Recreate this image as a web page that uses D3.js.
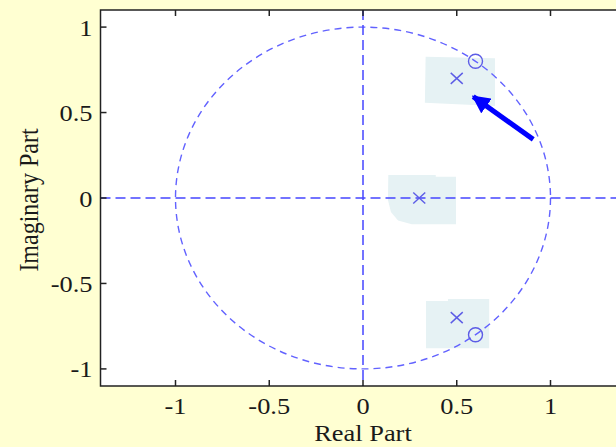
<!DOCTYPE html>
<html><head><meta charset="utf-8">
<script src="https://cdn.jsdelivr.net/npm/d3@7"></script>
<style>
html,body{margin:0;padding:0;background:#FFFFD2;}
svg{display:block;}
text{font-family:"Liberation Serif","Times New Roman",serif;fill:#1a1a1a;}
</style></head>
<body>
<svg id="chart" width="616" height="447"></svg>
<script>
// ---- data ----
const xTicks = [-1, -0.5, 0, 0.5, 1];
const yTicks = [-1, -0.5, 0, 0.5, 1];
const xTickLabels = ["-1", "-0.5", "0", "0.5", "1"];
const yTickLabels = ["-1", "-0.5", "0", "0.5", "1"];
const poles = [[0.5, 0.7], [0.3, 0], [0.5, -0.7]];
const zeros = [[0.6, 0.8], [0.6, -0.8]];
const shadeTop = [[0.334,0.827],[0.704,0.817],[0.704,0.538],[0.330,0.558]];
const shadeMid = [[0.135,0.135],[0.388,0.135],[0.388,0.125],[0.496,0.125],[0.496,-0.154],[0.260,-0.154],[0.187,-0.132],[0.149,-0.082],[0.133,-0.012]];
const shadeBot = [[0.336,-0.603],[0.453,-0.603],[0.453,-0.591],[0.673,-0.591],[0.673,-0.879],[0.336,-0.879]];
const arrowPts = [[0.908,0.343],[0.588,0.593]];
const xLabel = "Real Part";
const yLabel = "Imaginary Part";

// ---- drawing ----
const svg = d3.select("#chart");
const x = d3.scaleLinear().domain([-1.4, 1.4]).range([100.5, 625.5]);
const y = d3.scaleLinear().domain([-1.1, 1.1]).range([386, 10]);
const L = x.range()[0], R = x.range()[1], T = y.range()[1], B = y.range()[0];

svg.append("rect").attr("x", L).attr("y", T).attr("width", R - L).attr("height", B - T).attr("fill", "#fff");

const line = d3.line().x(d => x(d[0])).y(d => y(d[1])).curve(d3.curveLinearClosed);
svg.selectAll("path.shade").data([shadeTop, shadeMid, shadeBot]).join("path")
  .attr("class", "shade").attr("d", line).attr("fill", "#E6F2F4");

// unit circle
svg.append("ellipse").attr("cx", x(0)).attr("cy", y(0))
  .attr("rx", x(1) - x(0)).attr("ry", y(0) - y(1))
  .attr("fill", "none").attr("stroke", "#6262ff").attr("stroke-width", 1.4)
  .attr("stroke-dasharray", "7,5");

// zero lines
svg.append("line").attr("x1", L).attr("x2", R).attr("y1", y(0)).attr("y2", y(0))
  .attr("stroke", "#4646ff").attr("stroke-width", 1.5).attr("stroke-dasharray", "10,5");
svg.append("line").attr("x1", x(0)).attr("x2", x(0)).attr("y1", T).attr("y2", B)
  .attr("stroke", "#4646ff").attr("stroke-width", 1.5).attr("stroke-dasharray", "10,5");

// poles
const mc = "#5c5ce6", s = 6;
const pg = svg.append("g").attr("stroke", mc).attr("stroke-width", 1.4);
poles.forEach(p => {
  const cx = x(p[0]), cy = y(p[1]);
  pg.append("line").attr("x1", cx - s).attr("y1", cy - s + 0.5).attr("x2", cx + s).attr("y2", cy + s - 0.5);
  pg.append("line").attr("x1", cx - s).attr("y1", cy + s - 0.5).attr("x2", cx + s).attr("y2", cy - s + 0.5);
});
svg.selectAll("circle.zero").data(zeros).join("circle").attr("class", "zero")
  .attr("cx", d => x(d[0])).attr("cy", d => y(d[1])).attr("r", 7)
  .attr("fill", "none").attr("stroke", mc).attr("stroke-width", 1.4);

// arrow
svg.append("defs").append("marker").attr("id", "ah")
  .attr("viewBox", "0 0 10 10").attr("refX", 9).attr("refY", 5)
  .attr("markerWidth", 3.6).attr("markerHeight", 3.6).attr("markerUnits", "strokeWidth")
  .attr("orient", "auto")
  .append("path").attr("d", "M0,0 L10,5 L0,10 Z").attr("fill", "#0000ff");
svg.append("line")
  .attr("x1", x(arrowPts[0][0])).attr("y1", y(arrowPts[0][1]))
  .attr("x2", x(arrowPts[1][0])).attr("y2", y(arrowPts[1][1]))
  .attr("stroke", "#0000ff").attr("stroke-width", 5).attr("marker-end", "url(#ah)");

// axes frame
const ax = svg.append("g").attr("stroke", "#222").attr("stroke-width", 1.5).attr("fill", "none");
ax.append("path").attr("d", `M${R},${T}H${L}V${B}H${R}`);
xTicks.forEach(t => {
  ax.append("line").attr("x1", x(t)).attr("x2", x(t)).attr("y1", B).attr("y2", B - 6);
  ax.append("line").attr("x1", x(t)).attr("x2", x(t)).attr("y1", T).attr("y2", T + 6);
});
yTicks.forEach(t => {
  ax.append("line").attr("x1", L).attr("x2", L + 6).attr("y1", y(t)).attr("y2", y(t));
});

// tick labels (stretched horizontally like the reference)
const sx = 1.1;
xTicks.forEach((t, i) => {
  svg.append("text").attr("transform", `translate(${x(t)},${B + 28}) scale(${sx},1)`)
    .attr("text-anchor", "middle").attr("font-size", 24).text(xTickLabels[i]);
});
yTicks.forEach((t, i) => {
  svg.append("text").attr("transform", `translate(${L - 8},${y(t) + 8.5}) scale(${sx},1)`)
    .attr("text-anchor", "end").attr("font-size", 24).text(yTickLabels[i]);
});
svg.append("text").attr("transform", `translate(${x(0)},441) scale(${sx},1)`)
  .attr("text-anchor", "middle").attr("font-size", 24).text(xLabel);
svg.append("text").attr("transform", `translate(37.5,${y(0) + 2}) scale(${sx},1) rotate(-90)`)
  .attr("text-anchor", "middle").attr("font-size", 24).text(yLabel);
</script>
</body></html>
